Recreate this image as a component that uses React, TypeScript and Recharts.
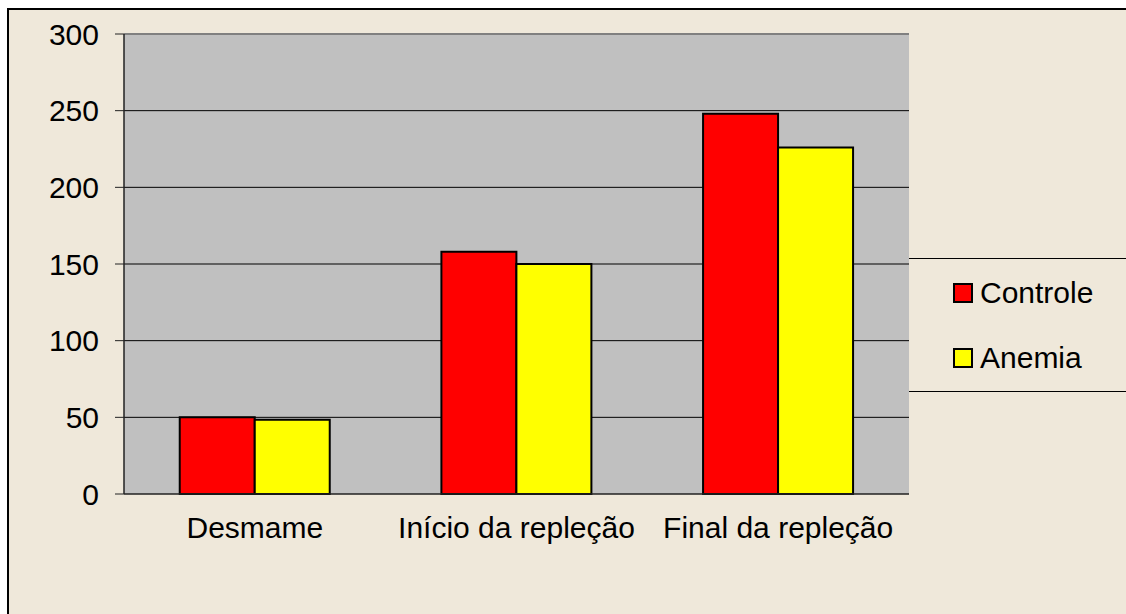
import React from 'react';
import { BarChart, Bar, XAxis, YAxis, CartesianGrid, Legend, ReferenceLine } from 'recharts';

const CATEGORIES = ['Desmame', 'Início da repleção', 'Final da repleção'];
const CONTROLE = [50, 158, 248];
const ANEMIA = [48.5, 150, 226];
const Y_TICKS = [0, 50, 100, 150, 200, 250, 300];
const GRID_VALUES = [50, 100, 150, 200, 250];

const SERIES = [
  { key: 'controle', name: 'Controle', color: '#FF0000' },
  { key: 'anemia', name: 'Anemia', color: '#FFFF00' },
];

const data = CATEGORIES.map((name, i) => ({ name, controle: CONTROLE[i], anemia: ANEMIA[i] }));

const FONT = '"Liberation Sans", Arial, sans-serif';
const BG = '#EFE8DA';

const LegendBox = () => (
  <div style={{ borderTop: '1px solid #000', borderBottom: '1px solid #000', height: 134, boxSizing: 'border-box', paddingTop: 1, paddingLeft: 44, fontFamily: FONT }}>
    {SERIES.map((s) => (
      <div key={s.key} style={{ display: 'flex', alignItems: 'center', height: 65 }}>
        <div style={{ width: 16, height: 16, border: '2px solid #000', background: s.color, marginRight: 7 }} />
        <span style={{ fontSize: 30, color: '#000' }}>{s.name}</span>
      </div>
    ))}
  </div>
);

export default function App() {
  return (
    <div style={{ position: 'fixed', left: 0, top: 0, width: 1126, height: 614, overflow: 'hidden', background: '#fff' }}>
      <div style={{ position: 'absolute', left: 7, top: 8, width: 1200, height: 700, border: '2px solid #000', background: BG }} />
      <div style={{ position: 'absolute', left: 0, top: 0 }}>
        <BarChart width={1126} height={614} data={data} barGap={0} barCategoryGap="21.3%"
          margin={{ top: 34, right: 217, bottom: 90, left: 0 }}>
          <CartesianGrid vertical={false} horizontalValues={GRID_VALUES} fill="#C0C0C0" stroke="#000" />
          <XAxis dataKey="name" height={30} tickLine={false} tickSize={0} tickMargin={23} interval={0}
            axisLine={{ stroke: '#222', strokeWidth: 1.5 }}
            tick={{ fill: '#000', fontSize: 30, fontFamily: FONT }} />
          <YAxis width={124} domain={[0, 300]} ticks={Y_TICKS} interval={0} tickSize={9} tickMargin={16}
            axisLine={{ stroke: '#222', strokeWidth: 1.5 }} tickLine={{ stroke: '#222' }}
            tick={{ fill: '#000', fontSize: 30, fontFamily: FONT }} />
          <YAxis yAxisId="r" orientation="right" width={0} domain={[0, 300]} tick={false} tickLine={false}
            axisLine={{ stroke: '#808080', strokeWidth: 2 }} />
          <ReferenceLine y={300} stroke="#808080" strokeWidth={2} />
          <Legend layout="horizontal" align="center" verticalAlign="middle" content={<LegendBox />}
            wrapperStyle={{ left: 909, top: 258, width: 217 }} />
          {SERIES.map((s) => (
            <Bar key={s.key} dataKey={s.key} name={s.name} fill={s.color} stroke="#000" strokeWidth={2}
              isAnimationActive={false} />
          ))}
        </BarChart>
      </div>
    </div>
  );
}
